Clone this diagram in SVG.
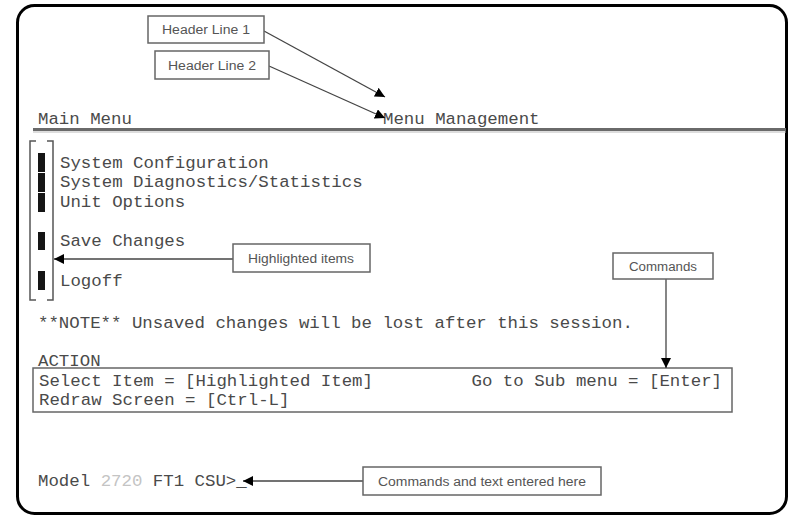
<svg xmlns="http://www.w3.org/2000/svg" width="793" height="518" viewBox="0 0 793 518">
<defs>
<style>
.mono{font-family:"Liberation Mono","Courier New",monospace;font-size:17.4px;fill:#4a4a4a}
.call{font-family:"Liberation Sans",Arial,sans-serif;font-size:12px;fill:#555}
.box{fill:#fff;stroke:#666;stroke-width:1.5}
.conn{stroke:#444;stroke-width:1.3;fill:none}
.bar{fill:#151515}
</style>
<marker id="ah" viewBox="0 0 10 10" refX="10" refY="5" markerWidth="10" markerHeight="10" markerUnits="userSpaceOnUse" orient="auto">
<path d="M0,0 L10,5 L0,10 z" fill="#000"/>
</marker>
</defs>
<rect width="793" height="518" fill="#fff"/>
<rect x="17.5" y="5.5" width="769" height="508" rx="17" fill="none" stroke="#000" stroke-width="3"/>

<g id="screen">
<text class="mono" x="38" y="124">Main Menu</text>
<text class="mono" x="383" y="124">Menu Management</text>
<line x1="33" y1="129.5" x2="786" y2="129.5" stroke="#6a6a6a" stroke-width="3"/>
<line x1="33" y1="132" x2="786" y2="132" stroke="#bbb" stroke-width="1"/>
<path d="M36,141 H30 V300 H36 M47,141 H53 V300 H47" fill="none" stroke="#555" stroke-width="1.5"/>
<rect class="bar" x="38" y="153" width="7" height="19"/>
<rect class="bar" x="38" y="173" width="7" height="19"/>
<rect class="bar" x="38" y="193" width="7" height="19"/>
<rect class="bar" x="38" y="232" width="7" height="18"/>
<rect class="bar" x="38" y="271" width="7" height="19"/>
<text class="mono" x="60" y="168">System Configuration</text>
<text class="mono" x="60" y="187">System Diagnostics/Statistics</text>
<text class="mono" x="60" y="207">Unit Options</text>
<text class="mono" x="60" y="246">Save Changes</text>
<text class="mono" x="60" y="286">Logoff</text>
<text class="mono" x="38" y="328">**NOTE** Unsaved changes will be lost after this session.</text>
<text class="mono" x="38" y="366" font-size="15">ACTION</text>
<rect x="33" y="368" width="699" height="44" fill="none" stroke="#666" stroke-width="1.5"/>
<text class="mono" x="39" y="386">Select Item = [Highlighted Item]</text>
<text class="mono" x="722" y="386" text-anchor="end">Go to Sub menu = [Enter]</text>
<text class="mono" x="39" y="405">Redraw Screen = [Ctrl-L]</text>
<text class="mono" x="38" y="486">Model <tspan fill="#c4c4c4">2720</tspan> FT1 CSU&gt;_</text>
</g>

<g id="connectors">
<line class="conn" x1="264" y1="31" x2="385" y2="97" marker-end="url(#ah)"/>
<line class="conn" x1="269" y1="66" x2="385" y2="118" marker-end="url(#ah)"/>
<line class="conn" x1="233" y1="259" x2="54" y2="259" marker-end="url(#ah)"/>
<line class="conn" x1="666" y1="279" x2="666" y2="368" stroke="#888" stroke-width="2" marker-end="url(#ah)"/>
<line class="conn" x1="363" y1="481" x2="243" y2="481" marker-end="url(#ah)"/>
</g>

<g id="header1">
<rect class="box" x="148" y="16" width="116" height="27"/>
<text class="call" x="206" y="34" text-anchor="middle" textLength="88" lengthAdjust="spacingAndGlyphs">Header Line 1</text>
</g>
<g id="header2">
<rect class="box" x="155" y="51" width="114" height="28"/>
<text class="call" x="212" y="69.5" text-anchor="middle" textLength="88" lengthAdjust="spacingAndGlyphs">Header Line 2</text>
</g>
<g id="highlighted">
<rect class="box" x="233" y="244" width="137" height="28"/>
<text class="call" x="301" y="262.5" text-anchor="middle" textLength="106" lengthAdjust="spacingAndGlyphs">Highlighted items</text>
</g>
<g id="commands">
<rect class="box" x="613" y="253" width="100" height="26"/>
<text class="call" x="663" y="270.5" text-anchor="middle" textLength="68" lengthAdjust="spacingAndGlyphs">Commands</text>
</g>
<g id="entered">
<rect class="box" x="363" y="467" width="238" height="28"/>
<text class="call" x="482" y="485.5" text-anchor="middle" textLength="208" lengthAdjust="spacingAndGlyphs">Commands and text entered here</text>
</g>
</svg>
